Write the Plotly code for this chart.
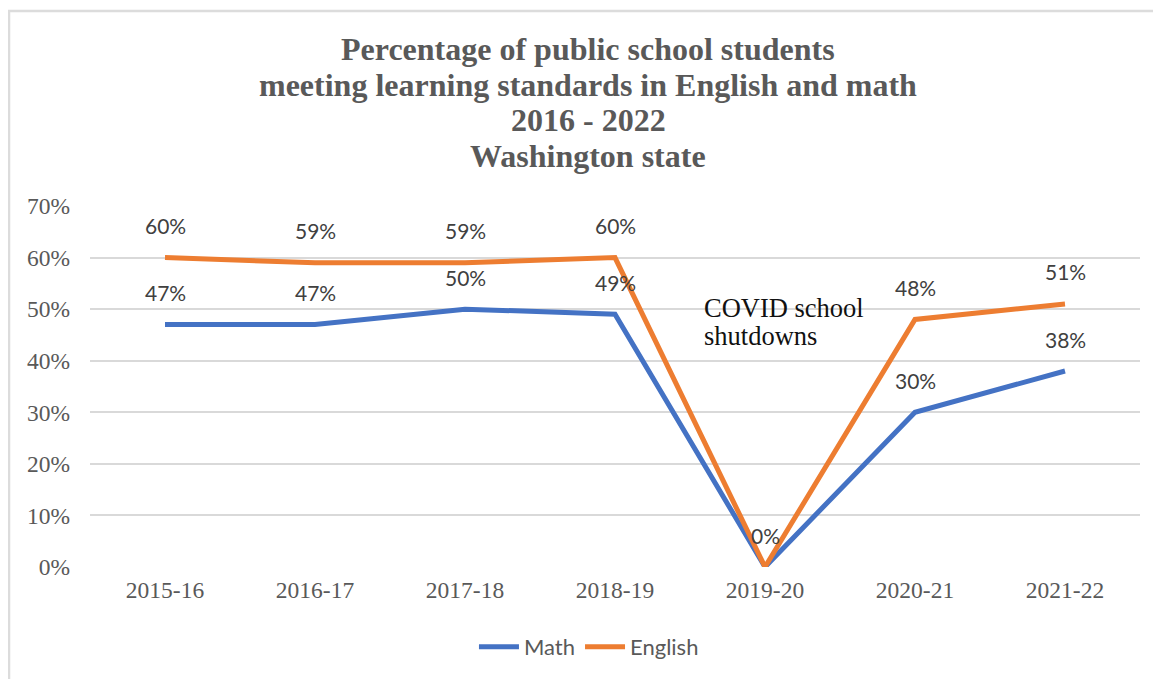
import plotly.graph_objects as go

years = ["2015-16", "2016-17", "2017-18", "2018-19", "2019-20", "2020-21", "2021-22"]
math_vals = [0.47, 0.47, 0.50, 0.49, 0.00, 0.30, 0.38]
english_vals = [0.60, 0.59, 0.59, 0.60, 0.00, 0.48, 0.51]
y_ticks = [0, 0.1, 0.2, 0.3, 0.4, 0.5, 0.6, 0.7]
y_tick_labels = ["0%", "10%", "20%", "30%", "40%", "50%", "60%", "70%"]
title_lines = ["Percentage of public school students",
               "meeting learning standards in English and math",
               "2016 - 2022",
               "Washington state"]
note_lines = ["COVID school", "shutdowns"]

MATH_COLOR = "#4472C4"
ENG_COLOR = "#ED7D31"
SANS = "Lato, 'Open Sans', sans-serif"
SERIF = "'Liberation Serif', 'Times New Roman', serif"
LABEL_FONT = dict(family=SANS, size=21, color="#404040")

fig = go.Figure()
fig.add_trace(go.Scatter(x=years, y=math_vals, mode="lines", name="Math",
                         line=dict(color=MATH_COLOR, width=5)))
fig.add_trace(go.Scatter(x=years, y=english_vals, mode="lines", name="English",
                         line=dict(color=ENG_COLOR, width=5)))

annotations = []
for yr, v in zip(years, english_vals):
    if v == 0:
        continue
    annotations.append(dict(x=yr, y=v, xref="x", yref="y", text=f"{round(v*100)}%",
                            showarrow=False, yshift=32, font=LABEL_FONT))
for yr, v in zip(years, math_vals):
    annotations.append(dict(x=yr, y=v, xref="x", yref="y", text=f"{round(v*100)}%",
                            showarrow=False, yshift=32, font=LABEL_FONT))

# title, one line per annotation (tight Excel-like line spacing)
title_y = [1.4349, 1.3352, 1.2382, 1.1385]
for txt, ty in zip(title_lines, title_y):
    annotations.append(dict(x=0.4743, y=ty, xref="paper", yref="paper",
                            text=f"<b>{txt}</b>", showarrow=False,
                            xanchor="center", yanchor="middle",
                            font=dict(family=SERIF, size=32, color="#595959")))

note_y = [0.5022, 0.4479]
for txt, ny in zip(note_lines, note_y):
    annotations.append(dict(x=3.58, y=ny, xref="x", yref="y", text=txt,
                            showarrow=False, xanchor="left", yanchor="middle",
                            font=dict(family=SERIF, size=26.5, color="#111111")))

fig.update_layout(
    width=1161, height=679,
    paper_bgcolor="white", plot_bgcolor="white",
    margin=dict(l=82, r=29, t=198, b=120),
    showlegend=True,
    xaxis=dict(
        type="category", range=[-0.5, 6.5],
        showgrid=False, zeroline=False, showline=False, ticks="",
        ticklabelstandoff=6,
        tickfont=dict(family=SERIF, size=23.5, color="#595959"),
    ),
    yaxis=dict(
        range=[0, 0.7], tickvals=y_ticks, ticktext=y_tick_labels,
        showgrid=True, gridcolor="#d9d9d9", gridwidth=1.5,
        zeroline=False, showline=False, ticks="",
        ticklabelstandoff=19,
        tickfont=dict(family=SERIF, size=23.5, color="#595959"),
    ),
    legend=dict(
        orientation="h", x=0.5004, xanchor="center", xref="container",
        y=1 - 639 / 679, yanchor="middle", yref="container",
        font=dict(family=SANS, size=22, color="#595959"),
        itemwidth=40,
    ),
    annotations=annotations,
    shapes=[dict(type="rect", xref="paper", yref="paper",
                 x0=(1 - 82) / 1050, x1=1.2, y0=-1, y1=(559 - 3) / 361,
                 line=dict(color="#dcdcdc", width=2.5), fillcolor="rgba(0,0,0,0)",
                 layer="below")],
)

fig.write_html("out.html")
